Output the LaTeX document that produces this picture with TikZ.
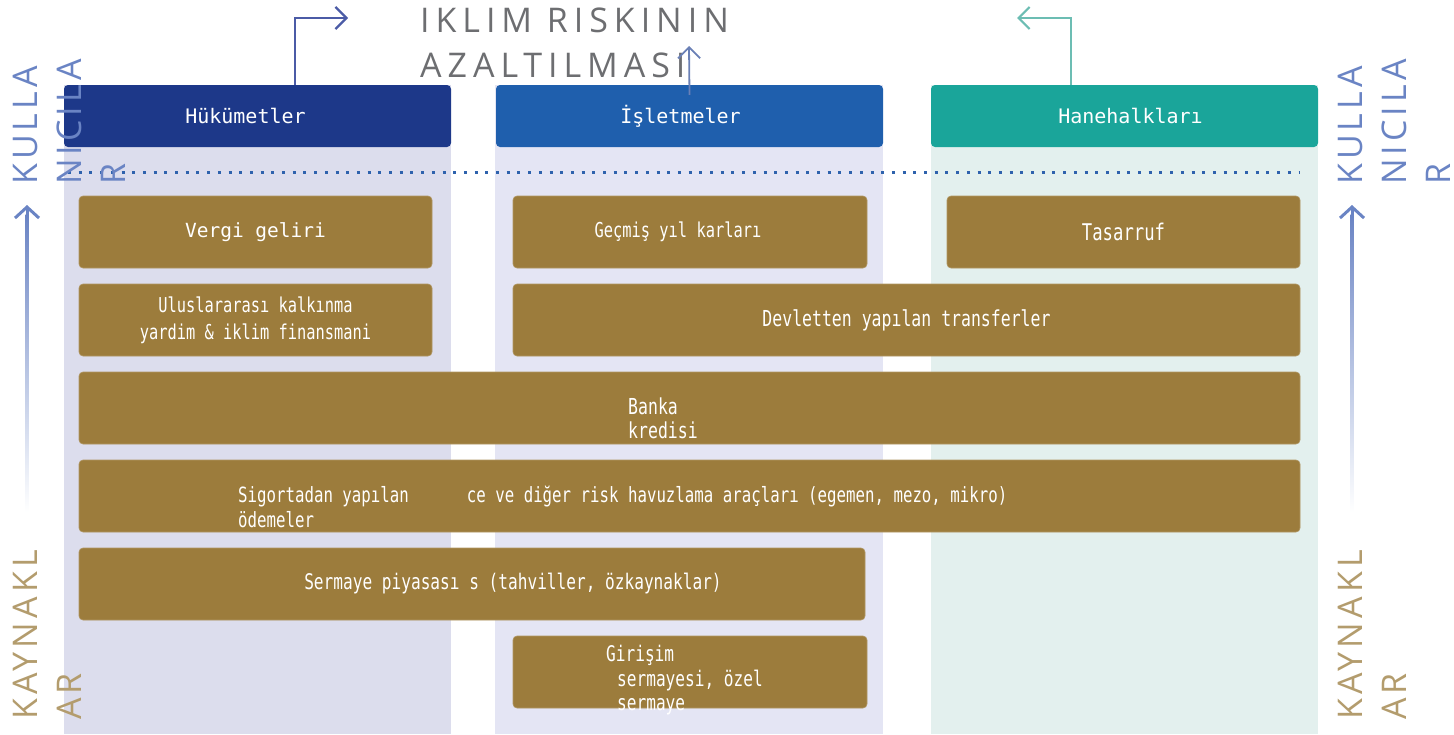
\documentclass[tikz,border=0pt]{standalone}
\usepackage{fontspec}
\setmainfont{Open Sans}
\newfontfamily\monofont{DejaVu Sans Mono}
\newfontfamily\condfont[FakeStretch=0.75]{DejaVu Sans Mono}
\newfontfamily\spacedfont[LetterSpace=12]{Open Sans}
\newfontfamily\titlefont[LetterSpace=17.5]{Open Sans}
\usetikzlibrary{arrows.meta,positioning}
\definecolor{govblue}{HTML}{1D3889}
\definecolor{bizblue}{HTML}{1F5FAD}
\definecolor{hhteal}{HTML}{1AA59A}
\definecolor{govbg}{HTML}{DCDDED}
\definecolor{bizbg}{HTML}{E4E5F4}
\definecolor{hhbg}{HTML}{E3F0EE}
\definecolor{fundgold}{HTML}{9C7C3C}
\definecolor{titlegray}{HTML}{6D6E71}
\definecolor{userblue}{HTML}{6A84C4}
\definecolor{srctan}{HTML}{B39C6D}
\definecolor{dotblue}{HTML}{2E62AD}
\definecolor{govarrowc}{HTML}{4B5BA6}
\definecolor{bizarrowc}{HTML}{6A80B6}
\definecolor{hharrowc}{HTML}{6CBDB3}
\def \colw {387pt}
\def \rowh {72pt}
\tikzstyle{header}=[rectangle, rounded corners=4pt, minimum width=\colw, minimum height=62pt, inner sep=0pt, text=white, font=\monofont\fontsize{20}{24}\selectfont]
\tikzstyle{fund}=[rectangle, rounded corners=4pt, fill=fundgold, draw=fundgold!80!white, line width=0.6pt, minimum height=\rowh, inner sep=0pt, text=white, align=center, font=\condfont\fontsize{21.5}{24}\selectfont]
\tikzstyle{fundtext}=[inner sep=0pt, text=white, align=left, anchor=north west, font=\condfont\fontsize{21.5}{24.5}\selectfont]
\tikzstyle{sidelabel}=[rotate=90, anchor=north west, inner sep=0pt, align=left, font=\spacedfont\fontsize{34}{44}\selectfont]
\tikzstyle{flow}=[line width=2.2pt, -{Straight Barb[length=11pt, width=22pt]}]

\begin{document}
\begin{tikzpicture}[x=1pt, y=-1pt]
\useasboundingbox (0,0) rectangle (1454,734);

\fill[govbg] (64,85) rectangle (451,734);
\fill[bizbg] (495,85) rectangle (883,734);
\fill[hhbg] (931,85) rectangle (1318,734);

\node[header, fill=govblue] (gov) at (257.5,116) {Hükümetler\hspace*{24pt}\mbox{}};
\node[header, fill=bizblue] (biz) at (689.5,116) {İşletmeler\hspace*{18pt}\mbox{}};
\node[header, fill=hhteal] (hh) at (1124.5,116) {\hspace{12pt}Hanehalkları};

\draw[dotblue, line width=3pt, dash pattern=on 3pt off 7.7pt] (68,172) -- (1300,172);

\node[fund, minimum width=353pt, font=\monofont\fontsize{19.5}{24}\selectfont] (vergi) at (255.5,232) {Vergi geliri};
\node[fund, minimum width=354pt, font=\condfont\fontsize{20.5}{24}\selectfont] (gecmis) at (690,232) {Geçmiş yıl karları\hspace{24pt}};
\node[fund, minimum width=353pt, font=\condfont\fontsize{23}{24}\selectfont] (tasarruf) at (1123.5,232) {Tasarruf};
\node[fund, minimum width=353pt, font=\condfont\fontsize{20.5}{27}\selectfont] (ulus) at (255.5,320) {Uluslararası kalkınma\\yardim \& iklim finansmani};
\node[fund, minimum width=787pt, font=\condfont\fontsize{22}{24}\selectfont] (devlet) at (906.5,320) {Devletten yapılan transferler};
\node[fund, minimum width=1221pt] (banka) at (689.5,408) {};
\node[fund, minimum width=1221pt] (sigorta) at (689.5,496) {};
\node[fund, minimum width=786pt] (sermaye) at (472,584) {};
\node[fund, minimum width=354pt] (girisim) at (690,672) {};

\node[fundtext, font=\condfont\fontsize{22}{24}\selectfont] (bankatxt) at (628,398) {Banka\\kredisi};
\node[fundtext, font=\condfont\fontsize{21}{25}\selectfont] (sigortatxt) at (238,486) {Sigortadan yapılan\hspace{58pt}ce ve diğer risk havuzlama araçları (egemen, mezo, mikro)\\ödemeler};
\node[fundtext, anchor=center] (sermayetxt) at (513,584) {Sermaye piyasası s (tahviller, özkaynaklar)};
\node[fundtext] (girisimtxt) at (606,645) {Girişim\\\hspace*{11pt}sermayesi, özel\\\hspace*{11pt}sermaye};

\node[inner sep=0pt, anchor=north west, align=left, text=titlegray, font=\titlefont\fontsize{34}{45}\selectfont] (title) at (420,8) {IKLIM RISKININ\\AZALTILMASI};

\coordinate (govout) at (348,18);
\coordinate (bizout) at (689,46);
\coordinate (hhout) at (1017,18);
\draw[flow, govarrowc] ([xshift=37.5pt]gov.north) |- (govout);
\draw[flow, bizarrowc, line width=1.8pt] ([yshift=-10pt]biz.north) -- (bizout);
\draw[flow, hharrowc] ([xshift=-53.5pt]hh.north) |- (hhout);

\node[sidelabel, text=userblue] (userl) at (13,185) {KULLA\\NICILA\\R};
\node[sidelabel, text=userblue] (userr) at (1338,185) {KULLA\\NICILA\\R};
\node[sidelabel, text=srctan] (srcl) at (13,720) {KAYNAKL\\AR};
\node[sidelabel, text=srctan] (srcr) at (1338,720) {KAYNAKL\\AR};

\foreach \sx/\nm in {27/left, 1352/right}
{
    \coordinate (riselow\nm) at (\sx,512);
    \coordinate (risetop\nm) at (\sx,205);
    \shade[top color=userblue, bottom color=white] (\sx-1.5,214) rectangle (\sx+1.5,512);
    \draw[userblue, line width=3pt, -{Straight Barb[length=11pt, width=24pt]}] (\sx,218) -- (risetop\nm);
}

\end{tikzpicture}
\end{document}
